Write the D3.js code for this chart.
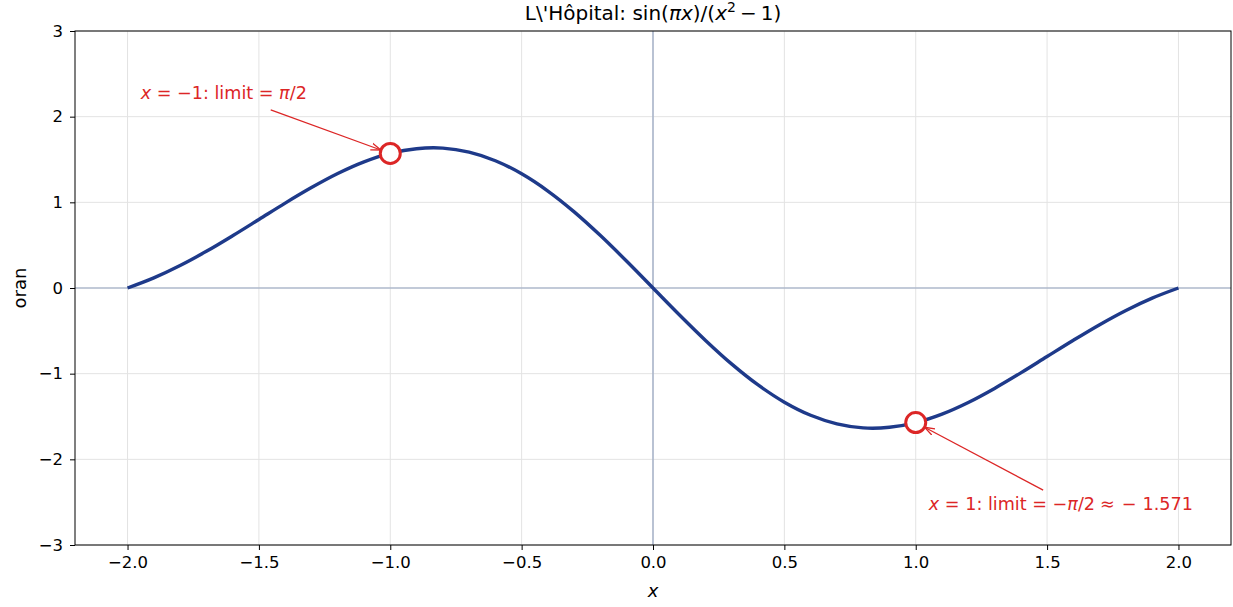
<!DOCTYPE html>
<html>
<head>
<meta charset="utf-8">
<script src="https://cdn.jsdelivr.net/npm/d3@7"></script>
<style>
  body { margin: 0; background: #fff; }
  svg { display: block; font-family: "DejaVu Sans", sans-serif; }
</style>
</head>
<body>
<svg id="chart" width="1233" height="607"></svg>
<script>
// Sampled values of sin(pi x)/(x^2 - 1) on [-2, 2]
const xs = [-2.0,-1.9,-1.8,-1.7,-1.6,-1.5,-1.4,-1.3,-1.2,-1.1,-1.0,-0.9,-0.8,-0.7,-0.6,-0.5,-0.4,-0.3,-0.2,-0.1,
             0.0, 0.1, 0.2, 0.3, 0.4, 0.5, 0.6, 0.7, 0.8, 0.9, 1.0, 1.1, 1.2, 1.3, 1.4, 1.5, 1.6, 1.7, 1.8, 1.9, 2.0];
const ys = [0.0, 0.118, 0.262, 0.428, 0.610, 0.800, 0.991, 1.172, 1.336, 1.472, 1.571, 1.626, 1.633, 1.586, 1.486, 1.333, 1.132, 0.889, 0.612, 0.312,
            0.0, -0.312, -0.612, -0.889, -1.132, -1.333, -1.486, -1.586, -1.633, -1.626, -1.571, -1.472, -1.336, -1.172, -0.991, -0.800, -0.610, -0.428, -0.262, -0.118, 0.0];

// Removable singularities and their limits
const limitX = [-1, 1];
const limitY = [1.5708, -1.5708];

// Annotation text anchors and arrow tails
const noteX = [-1.95, 1.05];
const noteY = [2.21, -2.59];
const tailX = [-1.455, 1.485];
const tailY = [2.08, -2.36];

const xTicks = [-2.0, -1.5, -1.0, -0.5, 0.0, 0.5, 1.0, 1.5, 2.0];
const yTicks = [-3, -2, -1, 0, 1, 2, 3];

const svg = d3.select("#chart");
const m = { left: 75, right: 2, top: 31, bottom: 62 };
const W = 1233, H = 607;
const x = d3.scaleLinear().domain([-2.2, 2.2]).range([m.left, W - m.right]);
const y = d3.scaleLinear().domain([-3, 3]).range([H - m.bottom, m.top]);
const minus = s => s.replace("-", "\u2212");

const red = "#dc2626";
const blue = "#1e3a8a";

// grid
const grid = svg.append("g");
grid.selectAll(".gx").data(xTicks).join("line")
  .attr("x1", d => x(d)).attr("x2", d => x(d))
  .attr("y1", y(3)).attr("y2", y(-3))
  .attr("stroke", "#e3e3e3").attr("stroke-width", 1);
grid.selectAll(".gy").data(yTicks).join("line")
  .attr("y1", d => y(d)).attr("y2", d => y(d))
  .attr("x1", x(-2.2)).attr("x2", x(2.2))
  .attr("stroke", "#e3e3e3").attr("stroke-width", 1);

// zero lines
svg.append("line").attr("x1", x(-2.2)).attr("x2", x(2.2)).attr("y1", y(0)).attr("y2", y(0))
  .attr("stroke", "#94a3c0").attr("stroke-width", 1.2);
svg.append("line").attr("x1", x(0)).attr("x2", x(0)).attr("y1", y(3)).attr("y2", y(-3))
  .attr("stroke", "#94a3c0").attr("stroke-width", 1.2);

// curve
const pts = xs.map((v, i) => [v, ys[i]]);
svg.append("path").datum(pts)
  .attr("fill", "none").attr("stroke", blue).attr("stroke-width", 3.4)
  .attr("stroke-linejoin", "round").attr("stroke-linecap", "butt")
  .attr("d", d3.line().x(d => x(d[0])).y(d => y(d[1])).curve(d3.curveCatmullRom.alpha(0.5)));

// frame
svg.append("rect").attr("x", x(-2.2)).attr("y", y(3))
  .attr("width", x(2.2) - x(-2.2)).attr("height", y(-3) - y(3))
  .attr("fill", "none").attr("stroke", "#000").attr("stroke-width", 1);

// axes
const ax = svg.append("g").attr("transform", `translate(0,${y(-3)})`)
  .call(d3.axisBottom(x).tickValues(xTicks).tickFormat(d => minus(d3.format(".1f")(d))).tickSize(5).tickPadding(6));
const ay = svg.append("g").attr("transform", `translate(${x(-2.2)},0)`)
  .call(d3.axisLeft(y).tickValues(yTicks).tickFormat(d => minus(String(d))).tickSize(5).tickPadding(7));
[ax, ay].forEach(g => {
  g.select(".domain").remove();
  g.selectAll("text").attr("font-size", 16.5).attr("fill", "#000").attr("font-family", "DejaVu Sans");
  g.selectAll("line").attr("stroke", "#000");
});

// labels
svg.append("text").attr("x", x(0)).attr("y", 597).attr("text-anchor", "middle")
  .attr("font-size", 18).attr("font-style", "italic").text("x");
svg.append("text").attr("transform", `translate(26,${y(0)}) rotate(-90)`).attr("text-anchor", "middle")
  .attr("font-size", 18).text("oran");

// title
const t = svg.append("text").attr("x", x(0)).attr("y", 20).attr("text-anchor", "middle").attr("font-size", 20);
t.append("tspan").text("L\\'Hôpital: sin(");
t.append("tspan").attr("font-style", "italic").text("πx");
t.append("tspan").text(")/(");
t.append("tspan").attr("font-style", "italic").text("x");
t.append("tspan").attr("font-size", 14).attr("dy", -8).text("2");
t.append("tspan").attr("dy", 8).attr("dx", 4).text("\u2212");
t.append("tspan").attr("dx", 4).text("1)");

// arrow marker
const defs = svg.append("defs");
defs.append("marker").attr("id", "ah").attr("viewBox", "0 0 10 10")
  .attr("refX", 10).attr("refY", 5).attr("markerWidth", 10).attr("markerHeight", 10)
  .attr("markerUnits", "userSpaceOnUse").attr("orient", "auto")
  .append("path").attr("d", "M0,1.5 L10,5 L0,8.5").attr("fill", "none").attr("stroke", red).attr("stroke-width", 1.3);

// arrows, shortened to stop at the circle edge
limitX.forEach((lx, i) => {
  const x0 = x(tailX[i]), y0 = y(tailY[i]), x1 = x(lx), y1 = y(limitY[i]);
  const len = Math.hypot(x1 - x0, y1 - y0), s = (len - 10) / len;
  svg.append("line").attr("x1", x0).attr("y1", y0)
    .attr("x2", x0 + (x1 - x0) * s).attr("y2", y0 + (y1 - y0) * s)
    .attr("stroke", red).attr("stroke-width", 1.3).attr("marker-end", "url(#ah)");
});

// hollow markers at the limits
svg.selectAll(".lim").data(limitX).join("circle")
  .attr("cx", d => x(d)).attr("cy", (d, i) => y(limitY[i])).attr("r", 10)
  .attr("fill", "#fff").attr("stroke", red).attr("stroke-width", 3);

// annotation texts
const a1 = svg.append("text").attr("x", x(noteX[0])).attr("y", y(noteY[0])).attr("font-size", 17.6).attr("fill", red);
a1.append("tspan").attr("font-style", "italic").text("x");
a1.append("tspan").text(" = \u22121: limit = ");
a1.append("tspan").attr("font-style", "italic").text("π");
a1.append("tspan").text("/2");

const a2 = svg.append("text").attr("x", x(noteX[1])).attr("y", y(noteY[1])).attr("font-size", 17.6).attr("fill", red);
a2.append("tspan").attr("font-style", "italic").text("x");
a2.append("tspan").text(" = 1: limit = \u2212");
a2.append("tspan").attr("font-style", "italic").text("π");
a2.append("tspan").text("/2");
a2.append("tspan").attr("dx", 5).text("≈");
a2.append("tspan").attr("dx", 7).text("\u2212");
a2.append("tspan").attr("dx", 6).text("1.571");
</script>
</body>
</html>
